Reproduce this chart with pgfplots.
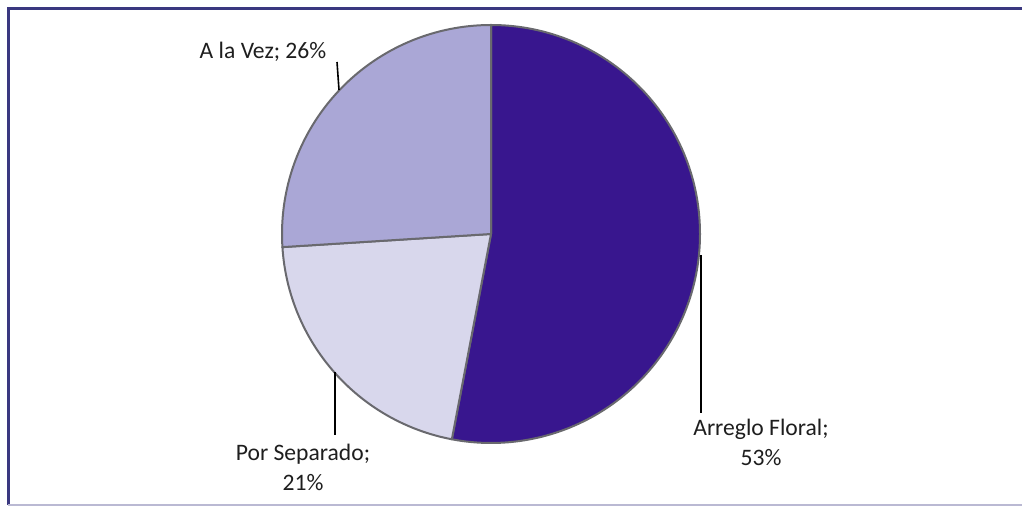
\documentclass[border=0pt]{standalone}
\usepackage{pgfplots}
\usepackage{pgfplotstable}
\pgfplotsset{compat=1.18}
\usepackage{fontspec}
\setmainfont{Carlito}

\definecolor{cFloral}{RGB}{56,22,142}
\definecolor{cSep}{RGB}{216,215,236}
\definecolor{cVez}{RGB}{170,167,214}
\definecolor{edge}{RGB}{105,105,110}
\definecolor{frame}{RGB}{58,56,128}
\definecolor{txt}{RGB}{30,30,30}

% share of each answer, in percent
\pgfplotstableread{
label pct
{Arreglo Floral} 53
{Por Separado} 21
{A la Vez} 26
}\piedata

\begin{document}
\begin{tikzpicture}
\pgfplotstablegetelem{0}{pct}\of\piedata \let\pa\pgfplotsretval
\pgfplotstablegetelem{1}{pct}\of\piedata \let\pb\pgfplotsretval
\pgfplotstablegetelem{2}{pct}\of\piedata \let\pc\pgfplotsretval
\pgfmathsetmacro\angA{90-3.6*\pa}
\pgfmathsetmacro\angB{\angA-3.6*\pb}
\pgfmathsetmacro\angC{\angB-3.6*\pc}
\begin{axis}[
    width=511pt, height=254pt,
    scale only axis,
    xmin=0, xmax=1022, ymin=0, ymax=508,
    hide axis,
    clip=false,
]
\coordinate (bl) at (axis cs:0,0);
\coordinate (tr) at (axis cs:1022,508);

% slices, clockwise from the top
\filldraw[fill=cFloral, draw=edge, line width=1pt, line join=round]
    (axis cs:491,274) -- ++(90:104.5pt)
    arc[start angle=90, end angle=\angA, radius=104.5pt] -- cycle;
\filldraw[fill=cSep, draw=edge, line width=1pt, line join=round]
    (axis cs:491,274) -- ++(\angA:104.5pt)
    arc[start angle=\angA, end angle=\angB, radius=104.5pt] -- cycle;
\filldraw[fill=cVez, draw=edge, line width=1pt, line join=round]
    (axis cs:491,274) -- ++(\angB:104.5pt)
    arc[start angle=\angB, end angle=\angC, radius=104.5pt] -- cycle;

% leader lines
\draw[black, line width=0.8pt] (axis cs:337,446) -- (axis cs:339,418);
\draw[black, line width=0.8pt] (axis cs:335,136) -- (axis cs:335,73);
\draw[black, line width=0.8pt] (axis cs:701,253) -- (axis cs:701,95);

% labels (base anchor = baseline of the last line)
\begin{scope}[every node/.style={text=txt, font=\fontsize{11.8}{15}\selectfont, inner sep=0pt}]
\node[anchor=base] at (axis cs:263,449) {A la Vez; \pc\%};
\node[anchor=base, align=center] at (axis cs:303,17)
    {Por Separado;\\\pb\%};
\node[anchor=base, align=center] at (axis cs:761,42)
    {Arreglo Floral;\\\pa\%};
\end{scope}

% frame
\draw[frame, line width=1.5pt] (axis cs:1022,499) -- (axis cs:8,499) -- (axis cs:8,3);
\draw[frame!35, line width=1pt] (axis cs:8,3) -- (axis cs:1022,3);
\end{axis}
\pgfresetboundingbox
\useasboundingbox (bl) rectangle (tr);
\end{tikzpicture}
\end{document}
